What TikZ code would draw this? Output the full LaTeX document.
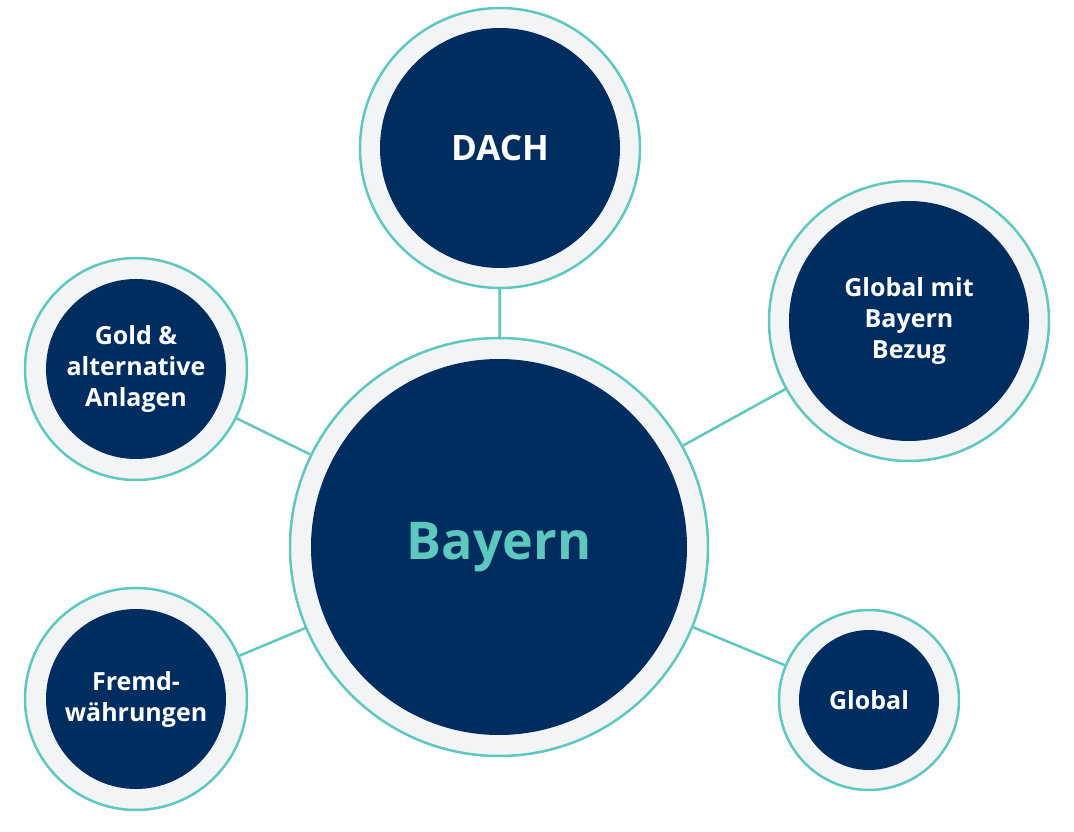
\documentclass[tikz,border=0pt]{standalone}
\usepackage{fontspec}
\setmainfont{Open Sans}
\definecolor{navy}{HTML}{002D5F}
\definecolor{teal}{HTML}{5EC8BF}
\definecolor{ringfill}{HTML}{F2F4F6}
\begin{document}
\begin{tikzpicture}[x=1pt,y=-1pt,
  ring/.style={circle,draw=teal,line width=2.5pt,fill=ringfill,inner sep=0pt},
  core/.style={circle,fill=navy,inner sep=0pt,text=white,align=center,font=\bfseries\fontsize{25}{31}\selectfont},
  link/.style={draw=teal,line width=2.5pt}]
\useasboundingbox (0,0) rectangle (1074,832);
% rings
\node[ring,minimum size=418pt] (rB) at (499,547) {};
\node[ring,minimum size=280pt] (rD) at (500,148) {};
\node[ring,minimum size=280pt] (rG) at (909,321) {};
\node[ring,minimum size=222pt] (rA) at (136,369) {};
\node[ring,minimum size=222pt] (rF) at (136,699) {};
\node[ring,minimum size=180pt] (rL) at (869,700) {};
% connectors
\draw[link] (rB) -- (rD);
\draw[link] (rB) -- (rG);
\draw[link] (rB) -- (rA);
\draw[link] (rB) -- (rF);
\draw[link] (rB) -- (rL);
% cores
\node[core,minimum size=376pt,text=teal,font=\bfseries\fontsize{52}{60}\selectfont] (B) at (rB.center) {Bayern};
\node[core,minimum size=240pt,font=\bfseries\fontsize{35}{40}\selectfont] (D) at (rD.center) {DACH};
\node[core,minimum size=240pt] (G) at (rG.center) {Global mit\\Bayern\\Bezug};
\node[core,minimum size=180pt] (A) at (rA.center) {Gold \&\\alternative\\Anlagen};
\node[core,minimum size=180pt] (F) at (rF.center) {Fremd-\\währungen};
\node[core,minimum size=140pt] (L) at (rL.center) {Global};
\end{tikzpicture}
\end{document}
